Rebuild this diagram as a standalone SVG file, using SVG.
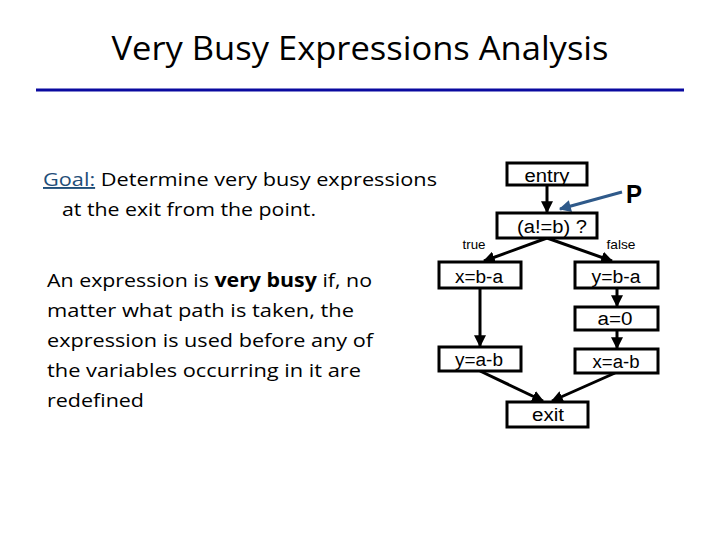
<svg xmlns="http://www.w3.org/2000/svg" width="720" height="540" viewBox="0 0 720 540">
<defs>
<style>
.t{font-family:"Open Sans","Noto Sans","Liberation Sans",sans-serif;fill:#000;font-size:19px}
.box{fill:#fff;stroke:#000;stroke-width:3}
.nt{font-family:"Liberation Sans",Arial,sans-serif;font-size:18px;text-anchor:middle;fill:#000}
.lab{font-family:"Liberation Sans",Arial,sans-serif;font-size:13px;text-anchor:middle;fill:#000}
.e{stroke:#000;stroke-width:3;fill:none;marker-end:url(#ah)}
</style>
<marker id="ah" viewBox="0 0 10 10" refX="9" refY="5" markerWidth="4" markerHeight="4" orient="auto" markerUnits="strokeWidth">
<path d="M0,0 L10,5 L0,10 z" fill="#000"/>
</marker>
<marker id="ahb" viewBox="0 0 10 10" refX="9" refY="5" markerWidth="4.5" markerHeight="4" orient="auto" markerUnits="strokeWidth">
<path d="M0,0 L10,5 L0,10 z" fill="#2f5a8a"/>
</marker>
</defs>
<rect width="720" height="540" fill="#fff"/>
<g id="title">
<text class="t" x="360" y="60" style="font-size:32px" text-anchor="middle" textLength="497" lengthAdjust="spacingAndGlyphs">Very Busy Expressions Analysis</text>
<line x1="36" y1="90" x2="684" y2="90" stroke="#0a0aa0" stroke-width="3"/>
</g>
<g id="goal">
<text class="t" x="43" y="186" textLength="394" lengthAdjust="spacingAndGlyphs"><tspan fill="#1f4e79" text-decoration="underline">Goal:</tspan> Determine very busy expressions</text>
<text class="t" x="62" y="216" textLength="254" lengthAdjust="spacingAndGlyphs">at the exit from the point.</text>
</g>
<g id="definition">
<text class="t" x="47" y="287" textLength="325" lengthAdjust="spacingAndGlyphs">An expression is <tspan font-weight="bold">very busy</tspan> if, no</text>
<text class="t" x="47" y="317" textLength="307" lengthAdjust="spacingAndGlyphs">matter what path is taken, the</text>
<text class="t" x="47" y="347" textLength="326" lengthAdjust="spacingAndGlyphs">expression is used before any of</text>
<text class="t" x="47" y="377" textLength="314" lengthAdjust="spacingAndGlyphs">the variables occurring in it are</text>
<text class="t" x="47" y="407" textLength="97" lengthAdjust="spacingAndGlyphs">redefined</text>
</g>
<g id="connectors">
<line class="e" x1="547" y1="185" x2="547" y2="212"/>
<line class="e" x1="547" y1="238" x2="484" y2="261"/>
<line class="e" x1="547" y1="238" x2="612" y2="261"/>
<line class="e" x1="480" y1="288" x2="480" y2="346"/>
<line class="e" x1="617" y1="288" x2="617" y2="306"/>
<line class="e" x1="617" y1="330" x2="617" y2="348"/>
<line class="e" x1="480" y1="371" x2="543" y2="401"/>
<line class="e" x1="615" y1="373" x2="552" y2="401"/>
<line x1="622" y1="192" x2="560" y2="209" stroke="#2f5a8a" stroke-width="3" marker-end="url(#ahb)"/>
<text class="lab" x="474" y="249" textLength="23" lengthAdjust="spacingAndGlyphs">true</text>
<text class="lab" x="621" y="249" textLength="29" lengthAdjust="spacingAndGlyphs">false</text>
</g>
<g id="entry"><rect class="box" x="507" y="163" width="80" height="22"/><text class="nt" x="547" y="182" textLength="45" lengthAdjust="spacingAndGlyphs">entry</text></g>
<g id="cond"><rect class="box" x="497" y="213" width="100" height="25"/><text class="nt" x="552" y="233" textLength="70" lengthAdjust="spacingAndGlyphs">(a!=b) ?</text></g>
<g id="P"><text x="634" y="203" font-family="'Liberation Sans',Arial,sans-serif" font-size="26" font-weight="bold" text-anchor="middle" textLength="16" lengthAdjust="spacingAndGlyphs">P</text></g>
<g id="xba"><rect class="box" x="439" y="262" width="82" height="26"/><text class="nt" x="479" y="283" textLength="48" lengthAdjust="spacingAndGlyphs">x=b-a</text></g>
<g id="yba"><rect class="box" x="575" y="262" width="83" height="26"/><text class="nt" x="616" y="283" textLength="49" lengthAdjust="spacingAndGlyphs">y=b-a</text></g>
<g id="a0"><rect class="box" x="575" y="307" width="83" height="23"/><text class="nt" x="615" y="325" textLength="35" lengthAdjust="spacingAndGlyphs">a=0</text></g>
<g id="yab"><rect class="box" x="439" y="347" width="82" height="24"/><text class="nt" x="479" y="366" textLength="48" lengthAdjust="spacingAndGlyphs">y=a-b</text></g>
<g id="xab"><rect class="box" x="575" y="349" width="83" height="24"/><text class="nt" x="616" y="368" textLength="47" lengthAdjust="spacingAndGlyphs">x=a-b</text></g>
<g id="exit"><rect class="box" x="507" y="402" width="81" height="25"/><text class="nt" x="548" y="421" textLength="32" lengthAdjust="spacingAndGlyphs">exit</text></g>
</svg>
